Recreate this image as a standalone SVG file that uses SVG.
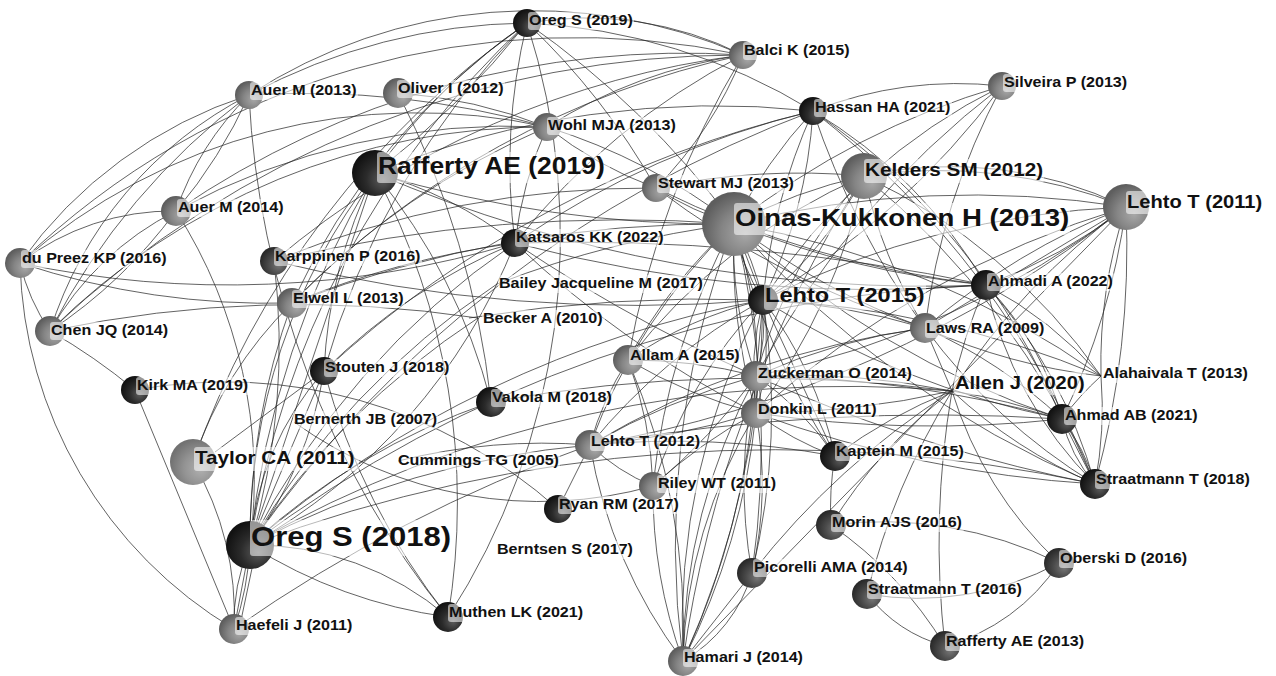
<svg xmlns="http://www.w3.org/2000/svg" width="1276" height="676" viewBox="0 0 1276 676">
<defs>
<radialGradient id="gDark" cx="0.62" cy="0.62" r="0.62" fx="0.68" fy="0.66"><stop offset="0" stop-color="#5c5c5c"/><stop offset="0.55" stop-color="#2b2b2b"/><stop offset="1" stop-color="#121212"/></radialGradient>
<radialGradient id="gMid" cx="0.62" cy="0.62" r="0.62" fx="0.68" fy="0.66"><stop offset="0" stop-color="#777"/><stop offset="0.55" stop-color="#4a4a4a"/><stop offset="1" stop-color="#2a2a2a"/></radialGradient>
<radialGradient id="gGrey" cx="0.62" cy="0.62" r="0.62" fx="0.68" fy="0.66"><stop offset="0" stop-color="#a8a8a8"/><stop offset="0.55" stop-color="#858585"/><stop offset="1" stop-color="#5e5e5e"/></radialGradient>
<radialGradient id="gLight" cx="0.62" cy="0.62" r="0.62" fx="0.68" fy="0.66"><stop offset="0" stop-color="#b0b0b0"/><stop offset="0.55" stop-color="#939393"/><stop offset="1" stop-color="#727272"/></radialGradient>
</defs>
<style>
.edges path{fill:none;stroke:#262626;stroke-width:0.85;stroke-opacity:0.85}
.dk{fill:url(#gDark)}
.md{fill:url(#gMid)}
.gr{fill:url(#gGrey)}
.lt{fill:url(#gLight)}
.bg{fill:#fff;fill-opacity:0.55}
text{font-family:"Liberation Sans",Arial,Helvetica,sans-serif;font-weight:bold;fill:#111}
.s{font-size:14px}
</style>
<rect width="1276" height="676" fill="#fff"/>
<g id="edges" class="edges">
<path d="M249,95 A600,600 0 0,1 527,23"/>
<path d="M249,95 A520,520 0 0,1 743,55"/>
<path d="M249,95 A900,900 0 0,1 547,127"/>
<path d="M249,95 A300,300 0 0,0 176,211"/>
<path d="M249,95 A500,500 0 0,1 176,211"/>
<path d="M249,95 A400,400 0 0,0 50,331"/>
<path d="M249,95 A700,700 0 0,0 50,331"/>
<path d="M249,95 A450,450 0 0,0 20,263"/>
<path d="M249,95 A900,900 0 0,0 448,617"/>
<path d="M20,263 A250,250 0 0,1 176,211"/>
<path d="M176,211 A300,300 0 0,0 50,331"/>
<path d="M176,211 A500,500 0 0,1 50,331"/>
<path d="M20,263 A200,200 0 0,0 50,331"/>
<path d="M20,263 A440,440 0 0,0 234,629"/>
<path d="M20,263 A800,800 0 0,0 292,303"/>
<path d="M20,263 A1000,1000 0 0,0 515,243"/>
<path d="M20,263 A600,600 0 0,1 547,127"/>
<path d="M20,263 A800,800 0 0,1 743,55"/>
<path d="M176,211 A700,700 0 0,1 547,127"/>
<path d="M176,211 A900,900 0 0,1 743,55"/>
<path d="M50,331 A700,700 0 0,1 547,127"/>
<path d="M50,331 A1000,1000 0 0,1 743,55"/>
<path d="M50,331 A600,600 0 0,1 135,390"/>
<path d="M50,331 A1200,1200 0 0,1 478,318"/>
<path d="M469,318 A1500,1500 0 0,1 763,300"/>
<path d="M135,390 L234,629"/>
<path d="M193,462 A300,300 0 0,1 234,629"/>
<path d="M135,390 A500,500 0 0,1 558,509"/>
<path d="M292,303 A400,400 0 0,0 193,462"/>
<path d="M176,211 A500,500 0 0,1 250,545"/>
<path d="M292,303 A800,800 0 0,1 547,127"/>
<path d="M292,303 A900,900 0 0,1 743,55"/>
<path d="M292,303 A900,900 0 0,1 515,243"/>
<path d="M292,303 A1200,1200 0 0,1 734,224"/>
<path d="M274,261 A1500,1500 0 0,1 734,224"/>
<path d="M274,261 A1500,1500 0 0,0 763,300"/>
<path d="M274,261 A900,900 0 0,1 743,55"/>
<path d="M274,261 A1000,1000 0 0,1 656,188"/>
<path d="M547,127 A400,400 0 0,0 656,188"/>
<path d="M547,127 A500,500 0 0,1 743,55"/>
<path d="M398,93 A500,500 0 0,1 547,127"/>
<path d="M398,93 A900,900 0 0,1 491,402"/>
<path d="M656,188 A400,400 0 0,0 743,55"/>
<path d="M527,23 A700,700 0 0,1 656,188"/>
<path d="M656,188 A700,700 0 0,1 864,176"/>
<path d="M656,188 A1000,1000 0 0,0 986,285"/>
<path d="M656,188 A900,900 0 0,0 925,328"/>
<path d="M743,55 A900,900 0 0,0 628,360"/>
<path d="M527,23 A350,350 0 0,1 743,55"/>
<path d="M743,55 A700,700 0 0,0 515,243"/>
<path d="M375,173 A600,600 0 0,1 527,23"/>
<path d="M375,173 A900,900 0 0,0 527,23"/>
<path d="M375,173 A600,600 0 0,0 250,545"/>
<path d="M375,173 A900,900 0 0,0 250,545"/>
<path d="M375,173 L250,545"/>
<path d="M375,173 A700,700 0 0,1 448,617"/>
<path d="M375,173 A400,400 0 0,1 515,243"/>
<path d="M375,173 A600,600 0 0,1 491,402"/>
<path d="M375,173 A900,900 0 0,1 813,111"/>
<path d="M375,173 A1200,1200 0 0,0 734,224"/>
<path d="M375,173 A1400,1400 0 0,0 986,285"/>
<path d="M375,173 A500,500 0 0,0 324,371"/>
<path d="M527,23 A900,900 0 0,0 250,545"/>
<path d="M527,23 A800,800 0 0,0 324,371"/>
<path d="M527,23 A600,600 0 0,0 515,243"/>
<path d="M527,23 A700,700 0 0,1 448,617"/>
<path d="M527,23 A600,600 0 0,1 813,111"/>
<path d="M527,23 A900,900 0 0,1 734,224"/>
<path d="M527,23 A700,700 0 0,0 292,303"/>
<path d="M527,23 A900,900 0 0,0 193,462"/>
<path d="M250,545 L324,371"/>
<path d="M250,545 A300,300 0 0,1 324,371"/>
<path d="M250,545 A400,400 0 0,0 324,371"/>
<path d="M250,545 A800,800 0 0,1 515,243"/>
<path d="M250,545 A600,600 0 0,0 515,243"/>
<path d="M250,545 L234,629"/>
<path d="M250,545 A200,200 0 0,0 234,629"/>
<path d="M250,545 A300,300 0 0,1 234,629"/>
<path d="M258,540 L240,625"/>
<path d="M250,545 A300,300 0 0,1 448,617"/>
<path d="M250,545 A500,500 0 0,0 448,617"/>
<path d="M250,545 A700,700 0 0,1 491,402"/>
<path d="M250,545 A1200,1200 0 0,1 813,111"/>
<path d="M250,545 A1300,1300 0 0,1 986,285"/>
<path d="M250,545 A1200,1200 0 0,1 952,391"/>
<path d="M250,545 A900,900 0 0,1 590,445"/>
<path d="M250,545 A800,800 0 0,1 497,284"/>
<path d="M250,545 A800,800 0 0,1 478,318"/>
<path d="M250,545 A700,700 0 0,1 292,303"/>
<path d="M250,545 A700,700 0 0,0 274,261"/>
<path d="M250,545 A1100,1100 0 0,1 763,300"/>
<path d="M250,545 A1500,1500 0 0,1 1095,484"/>
<path d="M324,371 A700,700 0 0,0 448,617"/>
<path d="M324,371 A600,600 0 0,1 515,243"/>
<path d="M324,371 A1100,1100 0 0,1 813,111"/>
<path d="M324,371 L215,452"/>
<path d="M515,243 A1400,1400 0 0,0 986,285"/>
<path d="M515,243 A2000,2000 0 0,1 986,285"/>
<path d="M515,243 A900,900 0 0,1 813,111"/>
<path d="M515,243 A400,400 0 0,1 547,127"/>
<path d="M515,243 A1000,1000 0 0,0 756,413"/>
<path d="M515,243 A1600,1600 0 0,0 1095,484"/>
<path d="M491,402 A1500,1500 0 0,1 952,391"/>
<path d="M294,422 A420,420 0 0,0 653,486"/>
<path d="M558,509 L590,445"/>
<path d="M234,629 A1500,1500 0 0,1 590,445"/>
<path d="M497,284 A1000,1000 0 0,1 734,224"/>
<path d="M398,461 A600,600 0 0,1 590,445"/>
<path d="M656,188 A300,300 0 0,0 734,224"/>
<path d="M734,224 A500,500 0 0,1 864,176"/>
<path d="M734,224 A300,300 0 0,1 763,300"/>
<path d="M734,224 A200,200 0 0,0 763,300"/>
<path d="M734,224 L763,300"/>
<path d="M734,224 A500,500 0 0,1 813,111"/>
<path d="M734,224 A900,900 0 0,0 986,285"/>
<path d="M734,224 A700,700 0 0,0 925,328"/>
<path d="M734,224 A900,900 0 0,1 1101,376"/>
<path d="M734,224 A900,900 0 0,0 1062,419"/>
<path d="M734,224 A1000,1000 0 0,0 1095,484"/>
<path d="M734,224 A400,400 0 0,0 756,376"/>
<path d="M734,224 A500,500 0 0,1 756,413"/>
<path d="M734,224 A600,600 0 0,0 756,413"/>
<path d="M734,224 A700,700 0 0,0 835,456"/>
<path d="M734,224 A500,500 0 0,0 628,360"/>
<path d="M734,224 A600,600 0 0,0 590,445"/>
<path d="M734,224 A700,700 0 0,0 653,486"/>
<path d="M734,224 A900,900 0 0,0 683,661"/>
<path d="M734,224 A900,900 0 0,1 752,573"/>
<path d="M734,224 A1000,1000 0 0,1 1126,207"/>
<path d="M547,127 A600,600 0 0,1 734,224"/>
<path d="M734,224 A800,800 0 0,1 1002,86"/>
<path d="M763,300 A600,600 0 0,1 813,111"/>
<path d="M763,300 A500,500 0 0,0 813,111"/>
<path d="M763,300 A800,800 0 0,0 1002,86"/>
<path d="M763,300 A600,600 0 0,1 1002,86"/>
<path d="M763,300 A400,400 0 0,0 864,176"/>
<path d="M763,300 A200,200 0 0,1 756,376"/>
<path d="M763,300 L756,376"/>
<path d="M763,300 A300,300 0 0,0 756,413"/>
<path d="M763,300 A250,250 0 0,1 756,413"/>
<path d="M763,300 A400,400 0 0,1 835,456"/>
<path d="M763,300 L835,456"/>
<path d="M763,300 A900,900 0 0,1 683,661"/>
<path d="M763,300 A700,700 0 0,0 683,661"/>
<path d="M763,300 A700,700 0 0,1 752,573"/>
<path d="M763,300 A500,500 0 0,0 653,486"/>
<path d="M763,300 A600,600 0 0,0 590,445"/>
<path d="M763,300 A400,400 0 0,0 628,360"/>
<path d="M763,300 A700,700 0 0,1 925,328"/>
<path d="M763,300 A900,900 0 0,1 1126,207"/>
<path d="M763,300 A900,900 0 0,0 1062,419"/>
<path d="M763,300 A1000,1000 0 0,1 1101,376"/>
<path d="M864,176 A400,400 0 0,1 1126,207"/>
<path d="M864,176 A500,500 0 0,1 1126,207"/>
<path d="M864,176 A500,500 0 0,0 925,328"/>
<path d="M864,176 A600,600 0 0,1 1101,376"/>
<path d="M864,176 A800,800 0 0,1 1095,484"/>
<path d="M864,176 A500,500 0 0,0 756,376"/>
<path d="M864,176 A600,600 0 0,1 756,413"/>
<path d="M864,176 A1200,1200 0 0,0 683,661"/>
<path d="M864,176 A600,600 0 0,0 628,360"/>
<path d="M1126,207 A700,700 0 0,0 925,328"/>
<path d="M1126,207 L925,328"/>
<path d="M1126,207 A500,500 0 0,1 986,285"/>
<path d="M1126,207 A700,700 0 0,0 952,391"/>
<path d="M1126,207 A900,900 0 0,1 756,376"/>
<path d="M1126,207 A1000,1000 0 0,0 756,413"/>
<path d="M1126,207 A1200,1200 0 0,1 590,445"/>
<path d="M1126,207 L683,661"/>
<path d="M1126,207 A900,900 0 0,1 1095,484"/>
<path d="M1126,207 A500,500 0 0,0 1101,376"/>
<path d="M1126,207 A700,700 0 0,1 1062,419"/>
<path d="M813,111 A400,400 0 0,1 1002,86"/>
<path d="M813,111 A500,500 0 0,1 986,285"/>
<path d="M813,111 A900,900 0 0,1 1095,484"/>
<path d="M813,111 A700,700 0 0,1 1062,419"/>
<path d="M813,111 A800,800 0 0,0 925,328"/>
<path d="M1002,86 A900,900 0 0,0 756,376"/>
<path d="M1002,86 A700,700 0 0,0 925,328"/>
<path d="M925,328 A600,600 0 0,0 1101,376"/>
<path d="M925,328 A600,600 0 0,0 1095,484"/>
<path d="M925,328 A500,500 0 0,1 1062,419"/>
<path d="M925,328 A600,600 0 0,0 756,376"/>
<path d="M925,328 A900,900 0 0,0 590,445"/>
<path d="M925,328 L952,391"/>
<path d="M986,285 A300,300 0 0,1 1062,419"/>
<path d="M986,285 A500,500 0 0,1 1095,484"/>
<path d="M986,285 A400,400 0 0,0 1095,484"/>
<path d="M986,285 A400,400 0 0,1 1101,376"/>
<path d="M952,391 A600,600 0 0,1 1062,419"/>
<path d="M952,391 A500,500 0 0,0 1095,484"/>
<path d="M952,391 A500,500 0 0,0 831,525"/>
<path d="M952,391 A700,700 0 0,0 867,594"/>
<path d="M952,391 A400,400 0 0,0 1059,563"/>
<path d="M952,391 A900,900 0 0,0 945,646"/>
<path d="M952,391 A500,500 0 0,0 835,456"/>
<path d="M952,391 A800,800 0 0,0 756,376"/>
<path d="M952,391 A900,900 0 0,1 756,413"/>
<path d="M952,391 A800,800 0 0,0 752,573"/>
<path d="M952,391 A500,500 0 0,1 986,285"/>
<path d="M1062,419 A200,200 0 0,1 1095,484"/>
<path d="M1062,419 L1095,484"/>
<path d="M1062,419 A150,150 0 0,0 1095,484"/>
<path d="M756,413 A1200,1200 0 0,0 1062,419"/>
<path d="M756,376 A1200,1200 0 0,1 1062,419"/>
<path d="M756,413 A1200,1200 0 0,0 1095,484"/>
<path d="M1101,376 A400,400 0 0,1 1095,484"/>
<path d="M1101,376 A300,300 0 0,0 1062,419"/>
<path d="M756,376 L756,413"/>
<path d="M756,376 A300,300 0 0,1 835,456"/>
<path d="M756,413 A300,300 0 0,0 835,456"/>
<path d="M628,360 A300,300 0 0,0 590,445"/>
<path d="M628,360 A400,400 0 0,1 653,486"/>
<path d="M628,360 A700,700 0 0,1 683,661"/>
<path d="M590,445 A200,200 0 0,0 653,486"/>
<path d="M590,445 A500,500 0 0,0 683,661"/>
<path d="M653,486 A500,500 0 0,0 683,661"/>
<path d="M756,376 A600,600 0 0,0 683,661"/>
<path d="M756,376 A800,800 0 0,1 683,661"/>
<path d="M756,413 A500,500 0 0,0 683,661"/>
<path d="M756,413 A700,700 0 0,1 683,661"/>
<path d="M756,413 A400,400 0 0,1 752,573"/>
<path d="M756,376 A500,500 0 0,0 752,573"/>
<path d="M752,573 L683,661"/>
<path d="M752,573 A150,150 0 0,1 683,661"/>
<path d="M590,445 A700,700 0 0,1 756,376"/>
<path d="M590,445 A800,800 0 0,0 756,413"/>
<path d="M653,486 A500,500 0 0,1 756,413"/>
<path d="M653,486 A600,600 0 0,0 756,376"/>
<path d="M628,360 A500,500 0 0,1 756,376"/>
<path d="M628,360 A500,500 0 0,0 756,413"/>
<path d="M590,445 A900,900 0 0,1 835,456"/>
<path d="M835,456 A300,300 0 0,0 831,525"/>
<path d="M590,445 A2000,2000 0 0,1 1062,419"/>
<path d="M831,525 A400,400 0 0,1 1059,563"/>
<path d="M831,525 A400,400 0 0,1 945,646"/>
<path d="M867,594 A300,300 0 0,0 1059,563"/>
<path d="M867,594 A150,150 0 0,0 945,646"/>
<path d="M945,646 A200,200 0 0,0 1059,563"/>
</g>
<g id="n-oreg2019"><circle cx="527" cy="23" r="14" class="dk"/><rect class="bg" x="528" y="12" width="106" height="18" rx="3"/><text class="s" transform="translate(529,25) scale(1.15,1)">Oreg S (2019)</text></g>
<g id="n-balci2015"><circle cx="743" cy="55" r="14" class="gr"/><rect class="bg" x="743" y="42" width="108" height="18" rx="3"/><text class="s" transform="translate(744,55) scale(1.15,1)">Balci K (2015)</text></g>
<g id="n-auer2013"><circle cx="249" cy="95" r="14" class="gr"/><rect class="bg" x="250" y="82" width="108" height="18" rx="3"/><text class="s" transform="translate(251,95) scale(1.15,1)">Auer M (2013)</text></g>
<g id="n-oliver2012"><circle cx="398" cy="93" r="15" class="gr"/><rect class="bg" x="397" y="80" width="108" height="18" rx="3"/><text class="s" transform="translate(398,93) scale(1.15,1)">Oliver I (2012)</text></g>
<g id="n-silveira2013"><circle cx="1002" cy="86" r="14" class="gr"/><rect class="bg" x="1003" y="74" width="126" height="18" rx="3"/><text class="s" transform="translate(1004,87) scale(1.15,1)">Silveira P (2013)</text></g>
<g id="n-hassan2021"><circle cx="813" cy="111" r="14" class="dk"/><rect class="bg" x="814" y="99" width="138" height="18" rx="3"/><text class="s" transform="translate(815,112) scale(1.15,1)">Hassan HA (2021)</text></g>
<g id="n-wohl2013"><circle cx="547" cy="127" r="14" class="gr"/><rect class="bg" x="547" y="117" width="131" height="18" rx="3"/><text class="s" transform="translate(548,130) scale(1.15,1)">Wohl MJA (2013)</text></g>
<g id="n-rafferty2019"><circle cx="375" cy="173" r="23" class="dk"/><rect class="bg" x="377" y="152" width="233" height="31" rx="3"/><text transform="translate(378,174) scale(1.15,1)" font-size="23">Rafferty AE (2019)</text></g>
<g id="n-stewart2013"><circle cx="656" cy="188" r="14" class="gr"/><rect class="bg" x="657" y="175" width="138" height="18" rx="3"/><text class="s" transform="translate(658,188) scale(1.15,1)">Stewart MJ (2013)</text></g>
<g id="n-kelders2012"><circle cx="864" cy="176" r="23" class="gr"/><rect class="bg" x="864" y="159" width="180" height="24" rx="3"/><text transform="translate(865,176) scale(1.15,1)" font-size="18">Kelders SM (2012)</text></g>
<g id="n-lehto2011"><circle cx="1126" cy="207" r="23" class="gr"/><rect class="bg" x="1126" y="191" width="138" height="23" rx="3"/><text transform="translate(1127,208) scale(1.15,1)" font-size="17.5">Lehto T (2011)</text></g>
<g id="n-oinas2013"><circle cx="734" cy="224" r="32" class="gr"/><rect class="bg" x="734" y="203" width="336" height="32" rx="3"/><text transform="translate(735,226) scale(1.15,1)" font-size="24">Oinas-Kukkonen H (2013)</text></g>
<g id="n-auer2014"><circle cx="176" cy="211" r="15" class="gr"/><rect class="bg" x="177" y="199" width="108" height="18" rx="3"/><text class="s" transform="translate(178,212) scale(1.15,1)">Auer M (2014)</text></g>
<g id="n-katsaros2022"><circle cx="515" cy="243" r="14" class="dk"/><rect class="bg" x="515" y="229" width="149" height="18" rx="3"/><text class="s" transform="translate(516,242) scale(1.15,1)">Katsaros KK (2022)</text></g>
<g id="n-dupreez2016"><circle cx="20" cy="263" r="15" class="gr"/><rect class="bg" x="21" y="250" width="147" height="18" rx="3"/><text class="s" transform="translate(22,263) scale(1.15,1)">du Preez KP (2016)</text></g>
<g id="n-karppinen2016"><circle cx="274" cy="261" r="14" class="md"/><rect class="bg" x="274" y="248" width="148" height="18" rx="3"/><text class="s" transform="translate(275,261) scale(1.15,1)">Karppinen P (2016)</text></g>
<g id="n-bailey2017"><rect class="bg" x="498" y="275" width="206" height="18" rx="3"/><text class="s" transform="translate(499,288) scale(1.15,1)">Bailey Jacqueline M (2017)</text></g>
<g id="n-lehto2015"><circle cx="763" cy="300" r="15" class="dk"/><rect class="bg" x="764" y="283" width="162" height="27" rx="3"/><text transform="translate(765,302) scale(1.15,1)" font-size="20.5">Lehto T (2015)</text></g>
<g id="n-ahmadi2022"><circle cx="986" cy="285" r="15" class="dk"/><rect class="bg" x="987" y="273" width="128" height="18" rx="3"/><text class="s" transform="translate(988,286) scale(1.15,1)">Ahmadi A (2022)</text></g>
<g id="n-elwell2013"><circle cx="292" cy="303" r="15" class="gr"/><rect class="bg" x="292" y="290" width="113" height="18" rx="3"/><text class="s" transform="translate(293,303) scale(1.15,1)">Elwell L (2013)</text></g>
<g id="n-becker2010"><rect class="bg" x="482" y="310" width="123" height="18" rx="3"/><text class="s" transform="translate(483,323) scale(1.15,1)">Becker A (2010)</text></g>
<g id="n-chen2014"><circle cx="50" cy="331" r="15" class="gr"/><rect class="bg" x="50" y="322" width="119" height="18" rx="3"/><text class="s" transform="translate(51,335) scale(1.15,1)">Chen JQ (2014)</text></g>
<g id="n-laws2009"><circle cx="925" cy="328" r="15" class="gr"/><rect class="bg" x="925" y="320" width="121" height="18" rx="3"/><text class="s" transform="translate(926,333) scale(1.15,1)">Laws RA (2009)</text></g>
<g id="n-allam2015"><circle cx="628" cy="360" r="15" class="gr"/><rect class="bg" x="629" y="347" width="113" height="18" rx="3"/><text class="s" transform="translate(630,360) scale(1.15,1)">Allam A (2015)</text></g>
<g id="n-stouten2018"><circle cx="324" cy="371" r="14" class="dk"/><rect class="bg" x="324" y="359" width="126" height="18" rx="3"/><text class="s" transform="translate(325,372) scale(1.15,1)">Stouten J (2018)</text></g>
<g id="n-kirk2019"><circle cx="135" cy="390" r="14" class="dk"/><rect class="bg" x="136" y="377" width="114" height="18" rx="3"/><text class="s" transform="translate(137,390) scale(1.15,1)">Kirk MA (2019)</text></g>
<g id="n-vakola2018"><circle cx="491" cy="402" r="15" class="dk"/><rect class="bg" x="491" y="389" width="123" height="18" rx="3"/><text class="s" transform="translate(492,402) scale(1.15,1)">Vakola M (2018)</text></g>
<g id="n-bernerth2007"><rect class="bg" x="293" y="411" width="145" height="18" rx="3"/><text class="s" transform="translate(294,424) scale(1.15,1)">Bernerth JB (2007)</text></g>
<g id="n-taylor2011"><circle cx="193" cy="462" r="23" class="lt"/><rect class="bg" x="194" y="447" width="165" height="24" rx="3"/><text transform="translate(195,464) scale(1.15,1)" font-size="18">Taylor CA (2011)</text></g>
<g id="n-cummings2005"><rect class="bg" x="397" y="452" width="163" height="18" rx="3"/><text class="s" transform="translate(398,465) scale(1.15,1)">Cummings TG (2005)</text></g>
<g id="n-oreg2018"><circle cx="250" cy="545" r="24" class="dk"/><rect class="bg" x="250" y="520" width="202" height="36" rx="3"/><text transform="translate(251,546) scale(1.15,1)" font-size="27">Oreg S (2018)</text></g>
<g id="n-ryan2017"><circle cx="558" cy="509" r="14" class="dk"/><rect class="bg" x="558" y="496" width="122" height="18" rx="3"/><text class="s" transform="translate(559,509) scale(1.15,1)">Ryan RM (2017)</text></g>
<g id="n-berntsen2017"><rect class="bg" x="496" y="541" width="138" height="18" rx="3"/><text class="s" transform="translate(497,554) scale(1.15,1)">Berntsen S (2017)</text></g>
<g id="n-muthen2021"><circle cx="448" cy="617" r="15" class="dk"/><rect class="bg" x="448" y="604" width="136" height="18" rx="3"/><text class="s" transform="translate(449,617) scale(1.15,1)">Muthen LK (2021)</text></g>
<g id="n-haefeli2011"><circle cx="234" cy="629" r="15" class="gr"/><rect class="bg" x="235" y="617" width="119" height="18" rx="3"/><text class="s" transform="translate(236,630) scale(1.15,1)">Haefeli J (2011)</text></g>
<g id="n-lehto2012"><circle cx="590" cy="445" r="15" class="gr"/><rect class="bg" x="590" y="433" width="111" height="18" rx="3"/><text class="s" transform="translate(591,446) scale(1.15,1)">Lehto T (2012)</text></g>
<g id="n-zuckerman2014"><circle cx="756" cy="376" r="15" class="gr"/><rect class="bg" x="757" y="365" width="156" height="18" rx="3"/><text class="s" transform="translate(758,378) scale(1.15,1)">Zuckerman O (2014)</text></g>
<g id="n-donkin2011"><circle cx="756" cy="413" r="15" class="gr"/><rect class="bg" x="757" y="401" width="122" height="18" rx="3"/><text class="s" transform="translate(758,414) scale(1.15,1)">Donkin L (2011)</text></g>
<g id="n-allen2020"><rect class="bg" x="954" y="372" width="132" height="23" rx="3"/><text transform="translate(955,389) scale(1.15,1)" font-size="17.5">Allen J (2020)</text></g>
<g id="n-alahaivala2013"><rect class="bg" x="1102" y="365" width="147" height="18" rx="3"/><text class="s" transform="translate(1103,378) scale(1.15,1)">Alahaivala T (2013)</text></g>
<g id="n-ahmad2021"><circle cx="1062" cy="419" r="15" class="dk"/><rect class="bg" x="1064" y="407" width="135" height="18" rx="3"/><text class="s" transform="translate(1065,420) scale(1.15,1)">Ahmad AB (2021)</text></g>
<g id="n-kaptein2015"><circle cx="835" cy="456" r="15" class="dk"/><rect class="bg" x="835" y="443" width="130" height="18" rx="3"/><text class="s" transform="translate(836,456) scale(1.15,1)">Kaptein M (2015)</text></g>
<g id="n-riley2011"><circle cx="653" cy="486" r="14" class="gr"/><rect class="bg" x="657" y="475" width="121" height="18" rx="3"/><text class="s" transform="translate(658,488) scale(1.15,1)">Riley WT (2011)</text></g>
<g id="n-straatmann2018"><circle cx="1095" cy="484" r="15" class="dk"/><rect class="bg" x="1095" y="471" width="156" height="18" rx="3"/><text class="s" transform="translate(1096,484) scale(1.15,1)">Straatmann T (2018)</text></g>
<g id="n-morin2016"><circle cx="831" cy="525" r="15" class="md"/><rect class="bg" x="831" y="514" width="133" height="18" rx="3"/><text class="s" transform="translate(832,527) scale(1.15,1)">Morin AJS (2016)</text></g>
<g id="n-picorelli2014"><circle cx="752" cy="573" r="15" class="md"/><rect class="bg" x="753" y="559" width="157" height="18" rx="3"/><text class="s" transform="translate(754,572) scale(1.15,1)">Picorelli AMA (2014)</text></g>
<g id="n-oberski2016"><circle cx="1059" cy="563" r="15" class="md"/><rect class="bg" x="1059" y="550" width="129" height="18" rx="3"/><text class="s" transform="translate(1060,563) scale(1.15,1)">Oberski D (2016)</text></g>
<g id="n-straatmann2016"><circle cx="867" cy="594" r="15" class="md"/><rect class="bg" x="867" y="581" width="156" height="18" rx="3"/><text class="s" transform="translate(868,594) scale(1.15,1)">Straatmann T (2016)</text></g>
<g id="n-rafferty2013"><circle cx="945" cy="646" r="15" class="md"/><rect class="bg" x="945" y="633" width="141" height="18" rx="3"/><text class="s" transform="translate(946,646) scale(1.15,1)">Rafferty AE (2013)</text></g>
<g id="n-hamari2014"><circle cx="683" cy="661" r="15" class="gr"/><rect class="bg" x="683" y="649" width="121" height="18" rx="3"/><text class="s" transform="translate(684,662) scale(1.15,1)">Hamari J (2014)</text></g>
</svg>
